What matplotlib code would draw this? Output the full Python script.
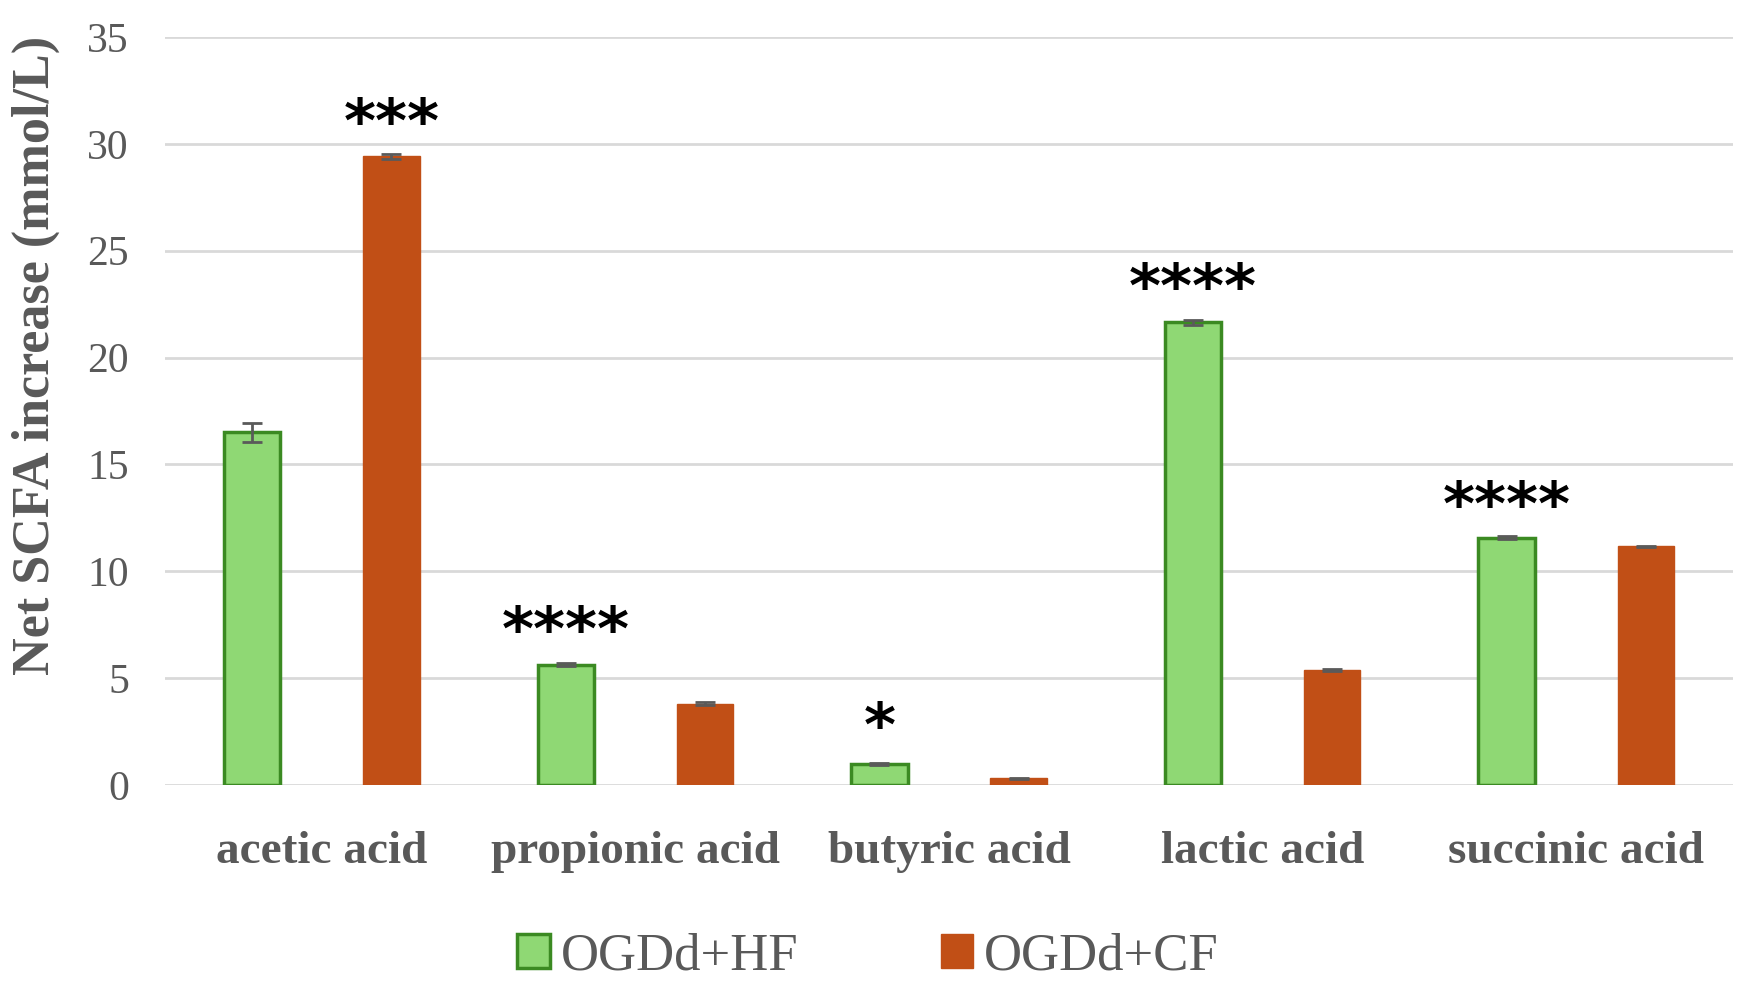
import matplotlib
matplotlib.use("Agg")
import matplotlib.pyplot as plt
import numpy as np
from matplotlib.patches import Patch

categories = ["acetic acid", "propionic acid", "butyric acid", "lactic acid", "succinic acid"]
series_names = ["OGDd+HF", "OGDd+CF"]
hf_values = [16.5, 5.63, 0.99, 21.65, 11.58]
hf_errors = [0.45, 0.08, 0.05, 0.12, 0.08]
cf_values = [29.42, 3.81, 0.31, 5.37, 11.16]
cf_errors = [0.12, 0.05, 0.03, 0.06, 0.04]
star_labels = ["***", "****", "*", "****", "****"]
star_series = [1, 0, 0, 0, 0]          # 0 = HF bar, 1 = CF bar
star_heights = [31.75, 7.95, 3.45, 24.0, 13.8]
yticks = [0, 5, 10, 15, 20, 25, 30, 35]

green_fill = "#8fd874"
green_edge = "#3b8a22"
orange = "#c14f16"
gray_text = "#595959"
grid_c = "#d9d9d9"

fig = plt.figure(figsize=(17.48, 9.9), dpi=100)
ax = fig.add_axes([0.0944, 0.2071, 0.8970, 0.7555])

x = np.arange(len(categories))
w = 0.18
off = 0.222
ekw = dict(ecolor="#5a5a5a", elinewidth=2, capsize=7, capthick=2)
ax.bar(x - off, hf_values, w, color=green_fill, edgecolor=green_edge, linewidth=2.5,
       yerr=hf_errors, error_kw=ekw, zorder=3)
ax.bar(x + off, cf_values, w, color=orange, edgecolor=orange, linewidth=1,
       yerr=cf_errors, error_kw=ekw, zorder=3)

ax.set_xlim(-0.5, len(categories) - 0.5)
ax.set_ylim(0, 35)
ax.set_yticks(yticks)
ax.set_yticklabels([str(t) for t in yticks], fontfamily="Liberation Serif", fontsize=30, color=gray_text)
ax.set_xticks(x)
ax.set_xticklabels(categories, fontfamily="Liberation Serif", fontweight="bold", fontsize=34, color=gray_text)
ax.tick_params(axis="y", length=0, pad=26)
ax.tick_params(axis="x", length=0, pad=33)
ax.yaxis.grid(True, color=grid_c, linewidth=2, zorder=0)
ax.set_axisbelow(True)
for s in ax.spines.values():
    s.set_visible(False)

fs_star = 44
for i, (lab, ser, h) in enumerate(zip(star_labels, star_series, star_heights)):
    xs = x[i] + (off if ser == 1 else -off)
    ax.annotate(lab, xy=(xs, h), xytext=(0, -0.575 * fs_star), textcoords="offset points",
                ha="center", va="baseline", fontsize=fs_star, fontweight="bold",
                fontfamily="DejaVu Sans", color="black", zorder=5)

fig.text(0.0206, 0.641, "Net SCFA increase (mmol/L)", rotation=90, ha="center", va="center",
         fontfamily="Liberation Serif", fontweight="bold", fontsize=37.5, color=gray_text)

handles = [Patch(facecolor=green_fill, edgecolor=green_edge, linewidth=2.5),
           Patch(facecolor=orange, edgecolor=orange)]
leg = fig.legend(handles, series_names, loc="center", bbox_to_anchor=(0.4966, 0.034), ncol=2,
                 frameon=False, handlelength=0.62, handleheight=0.62, handletextpad=0.2,
                 columnspacing=2.7, prop={"family": "Liberation Serif", "size": 38})
for t in leg.get_texts():
    t.set_color(gray_text)

fig.savefig("out.png", dpi=100, facecolor="white")
